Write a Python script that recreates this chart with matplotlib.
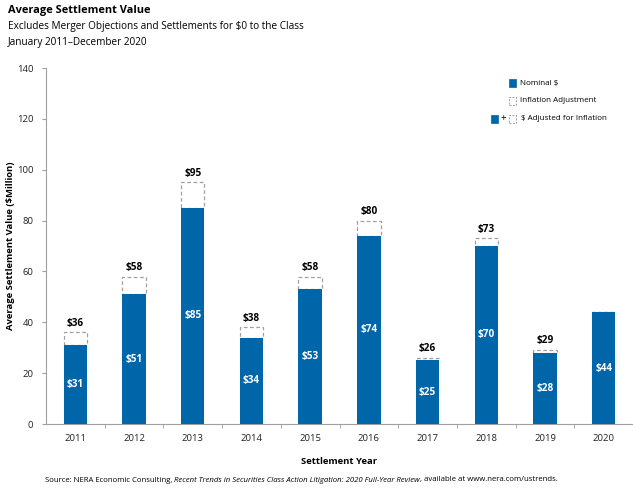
import matplotlib
matplotlib.use("Agg")
import matplotlib.pyplot as plt
from matplotlib.patches import Rectangle

years = ["2011", "2012", "2013", "2014", "2015", "2016", "2017", "2018", "2019", "2020"]
nominal = [31, 51, 85, 34, 53, 74, 25, 70, 28, 44]
adjusted = [36, 58, 95, 38, 58, 80, 26, 73, 29, 44]
yticks = [0, 20, 40, 60, 80, 100, 120, 140]

plt.rcParams['font.family'] = ['Open Sans', 'DejaVu Sans']
BLUE = '#0066aa'
GRAY = '#a0a0a0'

fig = plt.figure(figsize=(6.33, 4.92), dpi=100)
W, H = 633.0, 492.0
ax = fig.add_axes([46 / W, 68 / H, 587 / W, 356 / H])
ax.patch.set_alpha(0)

x = list(range(len(years)))
w = 0.4
ax.bar(x, nominal, width=w, color=BLUE, zorder=3)
infl = [a - n for a, n in zip(adjusted, nominal)]
ax.bar(x, infl, bottom=nominal, width=w, facecolor='white', edgecolor=GRAY,
       linestyle=(0, (3, 2)), linewidth=0.9, zorder=2)

for i in x:
    ax.text(i, nominal[i] / 2, f"${nominal[i]}", ha='center', va='center',
            color='white', fontsize=7.2, fontweight='bold', zorder=4)
    if adjusted[i] > nominal[i]:
        ax.text(i, adjusted[i] + 1.5, f"${adjusted[i]}", ha='center', va='bottom',
                color='black', fontsize=7.2, fontweight='bold')

ax.set_xlim(-0.5, len(years) - 0.5)
ax.set_ylim(0, 140)
ax.set_yticks(yticks)
ax.set_yticklabels([str(t) for t in yticks], fontsize=6.8, color='#222222')
ax.set_xticks(x)
ax.set_xticklabels(years, fontsize=6.8, color='#222222')
ax.tick_params(axis='x', length=0, pad=7)
ax.set_xticks([i + 0.5 for i in x[:-1]], minor=True)
ax.tick_params(axis='x', which='minor', length=3, color=GRAY)
ax.tick_params(axis='y', length=3, color=GRAY, pad=6)
for s in ['top', 'right']:
    ax.spines[s].set_visible(False)
for s in ['left', 'bottom']:
    ax.spines[s].set_color(GRAY)
    ax.spines[s].set_linewidth(0.8)

fig.text(11 / W, (H - 246) / H, "Average Settlement Value ($Million)", fontsize=6.8,
         fontweight='bold', rotation=90, ha='center', va='center')
fig.text((46 + 587 / 2) / W, (H - 461) / H, "Settlement Year", fontsize=6.8,
         fontweight='bold', ha='center', va='center')

fig.text(8 / W, (H - 11) / H, "Average Settlement Value", fontsize=7.9, fontweight='bold', va='center')
fig.text(8 / W, (H - 27) / H, "Excludes Merger Objections and Settlements for $0 to the Class", fontsize=7.2, va='center')
fig.text(8 / W, (H - 42) / H, "January 2011\u2013December 2020", fontsize=7.2, va='center')

src_y = (H - 480) / H
fs_src = 5.6
t1 = fig.text(45 / W, src_y, "Source: NERA Economic Consulting, ", fontsize=fs_src, va='center')
fig.canvas.draw()
r = fig.canvas.get_renderer()
bb = t1.get_window_extent(r)
t2 = fig.text(bb.x1 / fig.bbox.width, src_y,
              "Recent Trends in Securities Class Action Litigation: 2020 Full-Year Review",
              fontsize=fs_src, style='italic', va='center')
bb = t2.get_window_extent(r)
fig.text(bb.x1 / fig.bbox.width, src_y, ", available at www.nera.com/ustrends.", fontsize=fs_src, va='center')

# legend
def sq(xp, yp, filled):
    s = 7
    if filled:
        p = Rectangle((xp / W, (H - yp - s / 2) / H), s / W, s / H, transform=fig.transFigure,
                      facecolor=BLUE, edgecolor=BLUE, lw=0.5)
    else:
        p = Rectangle((xp / W, (H - yp - s / 2) / H), s / W, s / H, transform=fig.transFigure,
                      facecolor='white', edgecolor=GRAY, lw=0.7, linestyle=(0, (2, 1.5)))
    fig.patches.append(p)

fs_leg = 5.8
sq(509, 83, True)
fig.text(520 / W, (H - 83) / H, "Nominal $", fontsize=fs_leg, va='center')
sq(509, 101, False)
fig.text(520 / W, (H - 101) / H, "Inflation Adjustment", fontsize=fs_leg, va='center')
sq(491, 119, True)
fig.text(503.5 / W, (H - 119) / H, "+", fontsize=7, va='center', ha='center')
sq(509, 119, False)
fig.text(521 / W, (H - 119) / H, "$ Adjusted for Inflation", fontsize=fs_leg, va='center')

fig.savefig("out.png", dpi=100)
